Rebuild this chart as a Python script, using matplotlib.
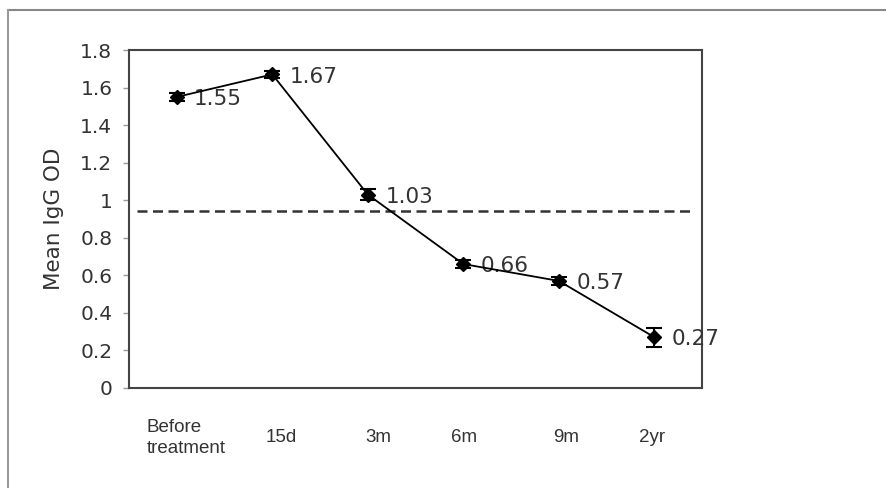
import matplotlib
matplotlib.use("Agg")
import matplotlib.pyplot as plt
from matplotlib.lines import Line2D
from matplotlib.ticker import FuncFormatter
from matplotlib.transforms import blended_transform_factory, ScaledTranslation
from matplotlib import font_manager

plt.rcParams["font.family"] = ["DejaVu Sans"]

categories = ["Before\ntreatment", "15d", "3m", "6m", "9m", "2yr"]
values = [1.55, 1.67, 1.03, 0.66, 0.57, 0.27]
errors = [0.02, 0.02, 0.03, 0.02, 0.02, 0.05]
value_labels = ["1.55", "1.67", "1.03", "0.66", "0.57", "0.27"]
cutoff = 0.94
y_ticks = [0, 0.2, 0.4, 0.6, 0.8, 1.0, 1.2, 1.4, 1.6, 1.8]
label_shift_px = [9, 9, 10, 1, 7, -2]

installed = {f.name for f in font_manager.fontManager.ttflist}
narrow = "Liberation Sans Narrow" if "Liberation Sans Narrow" in installed else "Liberation Sans"

fig = plt.figure(figsize=(8.86, 4.88), dpi=100)
fig.patch.set_facecolor("white")
ax = fig.add_axes([0.1456, 0.205, 0.647, 0.6925])

x = list(range(len(categories)))
ax.errorbar(x, values, yerr=errors, color="black", marker="D", markersize=7.5,
            linewidth=1.3, elinewidth=1.5, capsize=6, capthick=1.5, zorder=3)

for xi, v, lab in zip(x, values, value_labels):
    ax.annotate(lab, (xi, v), xytext=(12.5, -1.5), textcoords="offset points",
                ha="left", va="center", fontsize=15.5, color="#333333")

ax.axhline(cutoff, xmin=0.014, xmax=0.979, color="#333333", linewidth=1.8,
           linestyle=(0, (4, 2.2)), zorder=2)

ax.set_xlim(-0.5, len(categories) - 0.5)
ax.set_ylim(0, 1.8)
ax.set_yticks(y_ticks)
ax.yaxis.set_major_formatter(FuncFormatter(lambda v, p: ("%g" % round(v, 1))))
ax.tick_params(axis="y", length=4, width=1, color="#999999", labelsize=14.5,
               labelcolor="#333333", pad=8)
ax.set_xticks(x)
ax.set_xticklabels([])
ax.tick_params(axis="x", length=0)

trans = blended_transform_factory(ax.transData, ax.transAxes)
for xi, cat, sh in zip(x, categories, label_shift_px):
    t = trans + ScaledTranslation(sh / 100.0, 0, fig.dpi_scale_trans)
    ax.text(xi, -0.148, cat, transform=t, ha="center", va="center",
            multialignment="left", fontsize=13.5, family=narrow,
            color="#333333", linespacing=1.3)

ax.set_ylabel("Mean IgG OD", fontsize=15.5, color="#333333")
ax.yaxis.set_label_coords(-0.113, 0.5)

for s in ax.spines.values():
    s.set_color("#444444")
    s.set_linewidth(1.5)

# outer frame (top and left edges visible)
fig.add_artist(Line2D([8 / 886, 1.0], [1 - 10 / 488, 1 - 10 / 488],
                      transform=fig.transFigure, color="#888888", linewidth=1.5))
fig.add_artist(Line2D([8 / 886, 8 / 886], [0.0, 1 - 10 / 488],
                      transform=fig.transFigure, color="#999999", linewidth=1.5))

fig.savefig("out.png", dpi=100, facecolor="white")
